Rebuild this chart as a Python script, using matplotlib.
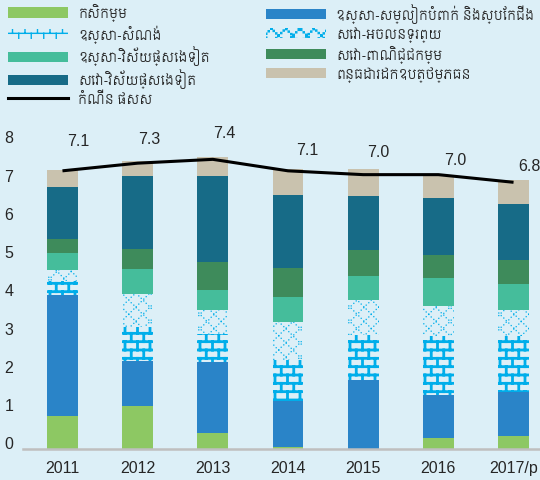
import warnings
warnings.filterwarnings("ignore")
import numpy as np
import matplotlib
matplotlib.use("Agg")
import matplotlib.pyplot as plt
import matplotlib.hatch as mhatch
from matplotlib.path import Path
from matplotlib.patches import Patch
from matplotlib.lines import Line2D
from matplotlib.font_manager import FontProperties

# ---------------- data ----------------
years = ["2011", "2012", "2013", "2014", "2015", "2016", "2017/p"]
agriculture = [0.85, 1.11, 0.41, 0.04, 0.00, 0.28, 0.33]
garment = [3.16, 1.18, 1.86, 1.19, 1.79, 1.13, 1.14]
construction = [0.37, 0.89, 0.72, 1.09, 1.19, 1.53, 1.47]
real_estate = [0.30, 0.85, 0.63, 0.98, 0.89, 0.78, 0.67]
industry_other = [0.43, 0.66, 0.52, 0.66, 0.65, 0.73, 0.68]
trade = [0.36, 0.52, 0.73, 0.76, 0.68, 0.62, 0.65]
services_other = [1.36, 1.91, 2.25, 1.90, 1.41, 1.47, 1.44]
taxes = [0.44, 0.39, 0.51, 0.70, 0.71, 0.58, 0.65]
gdp_growth = [7.1, 7.3, 7.4, 7.1, 7.0, 7.0, 6.8]

lbl_agri = "កសិកម្ម"
lbl_constr = "ឧស្សា-សំណង់"
lbl_indother = "ឧស្សា-វិស័យផ្សេងទៀត"
lbl_servother = "សេវា-វិស័យផ្សេងទៀត"
lbl_gdp = "កំណើន ផសស"
lbl_garment = "ឧស្សា-សម្លៀកបំពាក់ និងស្បែកជើង"
lbl_realestate = "សេវា-អចលនទ្រព្យ"
lbl_trade = "សេវា-ពាណិជ្ជកម្ម"
lbl_taxes = "ពន្ធដារដកឧបត្ថម្ភធន"

# label nudges (points) for the growth data labels
label_dx = [11.4, 8.1, 8.1, 14.0, 10.7, 12.0, 11.7]
label_dy = [21.6, 18.0, 19.4, 15.1, 16.4, 11.2, 12.2]

# ---------------- custom hatches ----------------
class BrickHatch(mhatch.HatchPatternBase):
    ROWS, COLS = 12, 8

    def __init__(self, hatch, density):
        self.on = 'b' in hatch
        R, C = self.ROWS, self.COLS
        nseg = (R + 1) + sum((C + 1) if r % 2 == 0 else C for r in range(R))
        self.num_vertices = nseg * 2 if self.on else 0

    def set_vertices_and_codes(self, vertices, codes):
        R, C = self.ROWS, self.COLS
        segs = []
        for r in range(R + 1):
            y = r / R
            segs.append(((0.0, y), (1.0, y)))
        for r in range(R):
            y0, y1 = r / R, (r + 1) / R
            n = C + 1 if r % 2 == 0 else C
            for c in range(n):
                xx = (c + 0.5 * (r % 2)) / C
                segs.append(((xx, y0), (xx, y1)))
        for i, (p0, p1) in enumerate(segs):
            vertices[2 * i] = p0
            vertices[2 * i + 1] = p1
            codes[2 * i] = Path.MOVETO
            codes[2 * i + 1] = Path.LINETO


class DotDiamondHatch(mhatch.HatchPatternBase):
    P, STEP, S = 7, 40, 0.011

    def __init__(self, hatch, density):
        self.on = 'd' in hatch
        self.num_vertices = 2 * self.P * self.STEP * 5 if self.on else 0

    def set_vertices_and_codes(self, vertices, codes):
        k = 0
        s = self.S / 2
        for sgn in (1, -1):
            for a in range(self.P):
                for j in range(self.STEP):
                    xx = (j + 0.5) / self.STEP
                    yy = (sgn * xx + a / self.P) % 1.0
                    vertices[k:k + 5] = [(xx - s, yy - s), (xx + s, yy - s),
                                         (xx + s, yy + s), (xx - s, yy + s),
                                         (xx - s, yy - s)]
                    codes[k:k + 5] = [Path.MOVETO, Path.LINETO, Path.LINETO,
                                      Path.LINETO, Path.CLOSEPOLY]
                    k += 5


mhatch._hatch_types.extend([BrickHatch, DotDiamondHatch])

# ---------------- styling ----------------
BG = "#DCEFF7"
CYAN = "#00AEEA"
NUM_FONT = "Liberation Sans"
KH = FontProperties(family=["Siemreap", "Battambang", "DejaVu Sans"], size=9.5)

W, H = 540, 481
fig = plt.figure(figsize=(W / 100, H / 100), dpi=100, facecolor=BG)
Y_MIN, Y_MAX = -0.16, 8.4
ax = fig.add_axes([23 / W, (H - 449.5) / H, 517 / W, 327.4 / H])
ax.set_facecolor(BG)

x = np.arange(len(years))
bw = 0.41
bottom = np.full(len(years), Y_MIN)

series = [
    (agriculture, dict(color="#8DC863")),
    (garment, dict(color="#2A84C8")),
    (construction, dict(facecolor="none", edgecolor=CYAN, linewidth=0,
                        hatch="b", hatch_linewidth=2.0)),
    (real_estate, dict(facecolor="none", edgecolor=CYAN, linewidth=0,
                       hatch="d", hatch_linewidth=0.1)),
    (industry_other, dict(color="#45BD9B")),
    (trade, dict(color="#3E8B5B")),
    (services_other, dict(color="#176B87")),
    (taxes, dict(color="#C9C2AE")),
]
for vals, kw in series:
    v = np.array(vals, dtype=float)
    ax.bar(x, v, bw, bottom=bottom, zorder=2, **kw)
    bottom = bottom + v

ax.plot(x, gdp_growth, color="black", lw=2.2, zorder=5, solid_capstyle="butt")
for i, v in enumerate(gdp_growth):
    ax.annotate(f"{v:.1f}", (x[i], v), xytext=(label_dx[i], label_dy[i]),
                textcoords="offset points", ha="center", va="center",
                fontsize=11.5, family=NUM_FONT, color="#262626",
                annotation_clip=False)

ax.set_xlim(-0.525, 6.352)
ax.set_ylim(Y_MIN, Y_MAX)
ax.set_yticks(range(0, 9))
ax.set_xticks(x)
ax.set_xticklabels(years)
for sp in ("top", "right", "left"):
    ax.spines[sp].set_visible(False)
ax.spines["bottom"].set_color("#BFBFBF")
ax.spines["bottom"].set_linewidth(1.8)
ax.tick_params(axis="both", length=0, labelsize=11.5, labelcolor="#262626")
ax.tick_params(axis="y", pad=7)
ax.tick_params(axis="x", pad=8.5)
for t in ax.get_xticklabels() + ax.get_yticklabels():
    t.set_family(NUM_FONT)

# ---------------- legends ----------------
h_agri = Patch(facecolor="#8DC863")
h_constr = Patch(facecolor="none", edgecolor=CYAN, linewidth=0, hatch="b", hatch_linewidth=2.0)
h_indother = Patch(facecolor="#45BD9B")
h_servother = Patch(facecolor="#176B87")
h_gdp = Line2D([], [], color="black", lw=2.2)
h_garment = Patch(facecolor="#2A84C8")
h_realestate = Patch(facecolor="none", edgecolor=CYAN, linewidth=0, hatch="d", hatch_linewidth=0.1)
h_trade = Patch(facecolor="#3E8B5B")
h_taxes = Patch(facecolor="#C9C2AE")

common = dict(loc="upper left", frameon=False, prop=KH, borderpad=0,
              borderaxespad=0, handlelength=4.55, handletextpad=0.76,
              labelspacing=0.24, handleheight=0.8)
leg1 = fig.legend([h_agri, h_constr, h_indother, h_servother, h_gdp],
                  [lbl_agri, lbl_constr, lbl_indother, lbl_servother, lbl_gdp],
                  bbox_to_anchor=(8 / W, 1 - 4 / H), **common)
leg2 = fig.legend([h_garment, h_realestate, h_trade, h_taxes],
                  [lbl_garment, lbl_realestate, lbl_trade, lbl_taxes],
                  bbox_to_anchor=(266 / W, 1 - 4 / H), **common)
for leg in (leg1, leg2):
    for t in leg.get_texts():
        t.set_color("#262626")

fig.savefig("out.png", dpi=100, facecolor=BG)
